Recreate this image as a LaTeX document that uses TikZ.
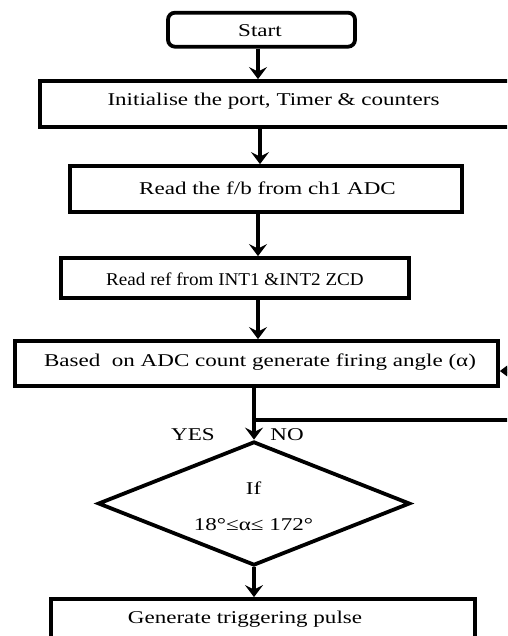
\documentclass[tikz,border=0pt]{standalone}
\usepackage{fontspec}
\setmainfont[FakeStretch=1.28]{Liberation Serif}
\usetikzlibrary{arrows.meta,shapes.geometric}
\tikzset{
  box/.style={draw, line width=3.8pt, inner sep=0pt, rectangle},
  rbox/.style={box, rounded corners=7pt},
  txt/.style={font=\fontsize{18}{20}\selectfont, inner sep=0pt, anchor=base},
  arr/.style={line width=4.2pt, -{Stealth[length=12pt,width=18pt,inset=4.5pt]}},
  plain/.style={line width=4.2pt},
  decbox/.style={draw, diamond, line width=3.8pt, inner sep=0pt, minimum width=312pt, minimum height=124pt}
}
\begin{document}
\begin{tikzpicture}[x=1pt,y=-1pt]
\useasboundingbox (0,0) rectangle (507,636);
\clip (0,0) rectangle (507,636);
\fill[white] (0,0) rectangle (507,636);
% boxes
\node[rbox, minimum width=187pt, minimum height=34pt] (start) at (261.5,29.7) {};
\node[box, minimum width=470pt, minimum height=46pt] (init) at (275,104) {};
\node[box, minimum width=392pt, minimum height=46pt] (readfb) at (266,189) {};
\node[box, minimum width=348pt, minimum height=40pt] (readref) at (235,278) {};
\node[box, minimum width=483pt, minimum height=45pt] (based) at (256.5,363.5) {};
\node[decbox] (dec) at (254,503.5) {};
\node[box, minimum width=424pt, minimum height=70pt] (last) at (263,634) {};
% texts
\node[txt] (tstart) at (260,37) {Start};
\node[txt] (tinit) at (273.5,106) {Initialise the port, Timer \& counters};
\node[txt] (tfb) at (267.5,195) {Read the f/b from ch1 ADC};
\node[txt] (tref) at (235,285) {\scalebox{0.83}[1]{Read ref from INT1 \&INT2 ZCD}};
\node[txt] (tbased) at (260,366.5) {Based\ \ on ADC count generate firing angle (α)};
\node[txt] (tif) at (253.5,494) {If};
\node[txt] (tcond) at (253.5,530) {18°≤α≤ 172°};
\node[txt] (tyes) at (193,440) {YES};
\node[txt] (tno) at (287,440) {NO};
\node[txt] (tlast) at (245,623) {Generate triggering pulse};
% connector helpers
\coordinate (a1) at (258,0);
\coordinate (a2) at (260,0);
\coordinate (a3) at (258,0);
\coordinate (a4) at (258,0);
\coordinate (j) at (254,420);
\coordinate (jr) at (520,420);
\coordinate (fr) at (520,371);
% connectors
\draw[arr] (start.south -| a1) -- (init.north -| a1);
\draw[arr] (init.south -| a2) -- (readfb.north -| a2);
\draw[arr] (readfb.south -| a3) -- (readref.north -| a3);
\draw[arr] (readref.south -| a4) -- (based.north -| a4);
\draw[arr] (based.south -| j) -- (dec.north);
\draw[plain] (j) -- (jr);
\draw[arr] (fr) -- (fr -| based.east);
\draw[arr] (dec.south) -- (last.north -| dec.south);
\end{tikzpicture}
\end{document}
